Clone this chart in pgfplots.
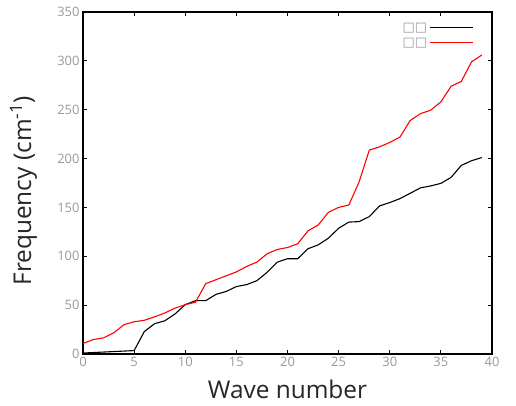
\documentclass[border=0pt]{standalone}
\usepackage{pgfplots}
\pgfplotsset{compat=1.18}
\usepackage{fontspec}
\setmainfont{Open Sans}
\newfontfamily\dejavu{DejaVu Sans}
\begin{document}
\begin{tikzpicture}
\begin{axis}[name=ax, scale only axis, width=409bp, height=342bp,
  xmin=0, xmax=40, ymin=0, ymax=350,
  xtick={0,5,...,40}, ytick={0,50,...,350},
  tick align=inside, major tick length=4bp,
  axis line style={line width=1.3pt},
  tick style={black, line width=0.9pt},
  /pgf/number format/assume math mode=true,
  ticklabel style={font=\fontsize{13}{15}\selectfont, text=black!40},
  xlabel={Wave number}, ylabel={Frequency (cm\textsuperscript{-1})},
  every axis x label/.style={at={(axis description cs:0.5,0)}, anchor=base, yshift=-44.5bp, font=\fontsize{24.5}{30}\selectfont, text=black!85},
  every axis y label/.style={at={(axis description cs:-0.127,0.477)}, rotate=90, anchor=base, font=\fontsize{24.5}{30}\selectfont, text=black!85},
  legend style={at={(0.962,0.98)}, anchor=north east, draw=none, fill=none, font=\dejavu\fontsize{13}{15}\selectfont, text=black!40, row sep=1bp},
  legend cell align=right, legend plot pos=right,
  legend image code/.code={\draw[#1] (0bp,0bp) -- (43bp,0bp);},
]
\addplot[color=black, line width=1.1pt] coordinates {
(0,1) (5,3.5) (6,23) (7,31) (8,34) (9,41) (10,50.5) (11,54.6) (12,54.6) (13,61) (14,64) (15,69) (16,71) (17,75) (18,83.5) (19,94) (20,97.5) (21,97.5) (22,107.7) (23,111.7) (24,118.5) (25,128.7) (26,135) (27,135.5) (28,140.6) (29,151.5) (30,155) (31,159) (32,164.5) (33,170) (34,172) (35,174.6) (36,180.8) (37,193) (38,197.8) (39,201)
};
\addlegendentry{□□}
\addplot[color=red, line width=1.1pt] coordinates {
(0,10.7) (1,14.8) (2,16.5) (3,21.6) (4,30) (5,33) (6,34.5) (7,38) (8,42) (9,47) (10,50.5) (11,53) (12,72) (13,76) (14,80) (15,84) (16,89.6) (17,94) (18,102.5) (19,107) (20,109) (21,112.8) (22,126) (23,132) (24,145) (25,150) (26,152.5) (27,176) (28,208.7) (29,212) (30,216.5) (31,222) (32,239) (33,246) (34,249.5) (35,258) (36,274) (37,279) (38,299) (39,306)
};
\addlegendentry{□□}
\end{axis}
\pgfresetboundingbox
\path ([shift={(-83bp,-51bp)}]ax.south west) rectangle ([shift={(24bp,12bp)}]ax.north east);
\end{tikzpicture}
\end{document}
